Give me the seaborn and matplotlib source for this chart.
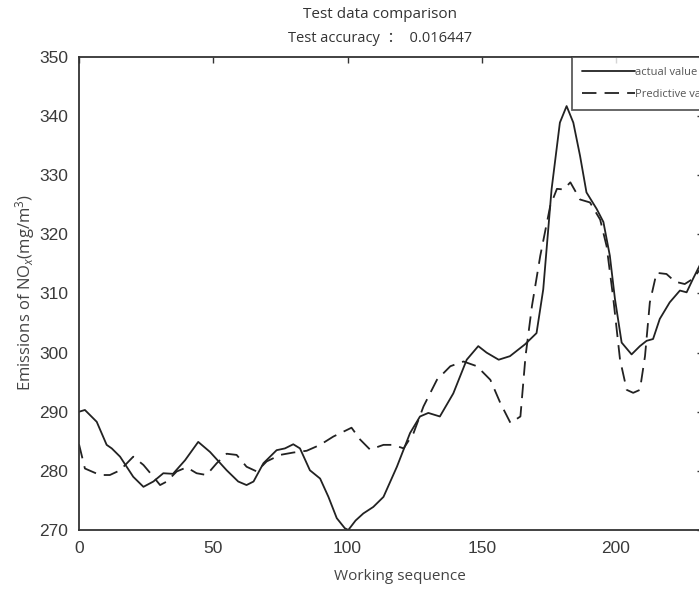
import matplotlib
matplotlib.use("Agg")
import matplotlib.pyplot as plt
import seaborn as sns
import pandas as pd

# Measured NOx emissions (solid line)
actual_x = [0, 2.2, 6.6, 10.3, 12.2, 15.3, 20.2, 24, 27.7, 31.4, 35, 39.5, 44.4,
            48.8, 55, 59.3, 62.4, 65, 68.7, 73.6, 76.7, 79.8, 82.3, 86, 89.8,
            92.9, 96, 99, 100.3, 103, 105.9, 109.6, 113.4, 118.4, 123.3, 127,
            130.1, 134.4, 139.4, 144.4, 148.7, 151.8, 156.3, 160.5, 166.1, 170.4,
            172.9, 176, 179.1, 181.6, 184.1, 186.6, 189, 192.8, 195.3, 197.7,
            199.6, 202.1, 205.8, 208.9, 211.4, 213.8, 216.3, 220, 223.8, 226.3,
            228.7, 232]
actual_y = [290.0, 290.3, 288.3, 284.4, 283.8, 282.4, 279.0, 277.3, 278.2, 279.6,
            279.5, 281.8, 284.9, 283.2, 280.1, 278.2, 277.6, 278.2, 281.3, 283.5,
            283.8, 284.5, 283.8, 280.1, 278.7, 275.6, 272.0, 270.3, 270.0, 271.6,
            272.8, 273.9, 275.6, 280.7, 286.4, 289.2, 289.8, 289.2, 293.1, 298.8,
            301.1, 300.0, 298.8, 299.4, 301.4, 303.3, 310.7, 327.6, 338.9, 341.7,
            338.9, 333.3, 327.1, 324.3, 322.1, 316.4, 309.1, 301.7, 299.7, 301.1,
            302.0, 302.3, 305.7, 308.5, 310.5, 310.2, 312.5, 315.5]

# Model output (dashed line)
pred_x = [0, 2.2, 7.8, 11.5, 15.3, 20.2, 24, 27.7, 30.2, 32.7, 36.4, 40.1, 43.8,
          47.5, 51.3, 55, 58.7, 62.4, 66.2, 69.9, 74.9, 79.8, 84.8, 89.8, 94.7,
          99.7, 101.5, 104.7, 108.4, 113.4, 117.1, 120.9, 124.6, 128.3, 133.3,
          138.3, 143.2, 148.2, 153.2, 156.9, 160.7, 164.4, 166.3, 168.7, 171.8,
          175.5, 178, 180.5, 183, 186.6, 190.3, 194.1, 196.5, 199, 201.5, 204,
          206.4, 208.9, 210.8, 212.6, 215.1, 218.8, 222, 225.6, 228.7, 232]
pred_y = [284.5, 280.4, 279.3, 279.3, 280.1, 282.4, 281.0, 279.0, 277.6, 278.2,
          279.9, 280.6, 279.6, 279.3, 281.3, 282.9, 282.7, 280.7, 279.9, 281.6,
          282.7, 283.1, 283.4, 284.4, 285.8, 286.9, 287.3, 285.3, 283.6, 284.4,
          284.4, 283.8, 286.4, 290.9, 295.4, 297.7, 298.5, 297.7, 295.4, 291.5,
          288.1, 289.2, 299.4, 307.9, 316.4, 324.8, 327.7, 327.6, 328.8, 325.9,
          325.4, 322.5, 318.0, 309.1, 298.8, 293.7, 293.2, 293.7, 299.4, 308.5,
          313.5, 313.3, 312.0, 311.6, 312.5, 314.5]

x_ticks = [0, 50, 100, 150, 200]
y_ticks = [270, 280, 290, 300, 310, 320, 330, 340, 350]

sns.set_style("white")
plt.rcParams["mathtext.fontset"] = "custom"
plt.rcParams["mathtext.rm"] = "Open Sans"
plt.rcParams["mathtext.it"] = "Open Sans:italic"

W, H = 699, 592
fig = plt.figure(figsize=(W / 100, H / 100), dpi=100)
ax = fig.add_axes([79 / W, 62 / H, 624 / W, 473 / H])

ink = "#222222"
actual_df = pd.DataFrame({"x": actual_x, "y": actual_y})
pred_df = pd.DataFrame({"x": pred_x, "y": pred_y})
sns.lineplot(data=actual_df, x="x", y="y", ax=ax, color=ink, lw=1.3,
             estimator=None, sort=False, label="actual value")
sns.lineplot(data=pred_df, x="x", y="y", ax=ax, color=ink, lw=1.3,
             estimator=None, sort=False, linestyle="--",
             label="Predictive value")
ax.lines[1].set_dashes((8, 4.5))

ax.set_xlim(0, 232.4)
ax.set_ylim(270, 350)
ax.set_xticks(x_ticks)
ax.set_yticks(y_ticks)
ax.set_xticklabels([str(v) for v in x_ticks], family="Liberation Sans",
                   fontsize=12.5, color="#3a3a3a")
ax.set_yticklabels([str(v) for v in y_ticks], family="Liberation Sans",
                   fontsize=12.5, color="#3a3a3a")
ax.tick_params(direction="in", length=4, width=1, color="#333333",
               top=True, right=True, pad=8)
for side in ["left", "bottom", "top", "right"]:
    ax.spines[side].set_visible(True)
    ax.spines[side].set_color("#333333")
    ax.spines[side].set_linewidth(1.3)

ax.set_xlabel("")
ax.set_ylabel("")
fig.text(400 / W, 1 - 577 / H, "Working sequence", family="Open Sans",
         fontsize=11, color="#444444", ha="center", va="center")
fig.text(25 / W, 1 - 292 / H, r"Emissions of NO$_{x}$(mg/m$^{3}$)",
         family="Open Sans", fontsize=12, color="#444444", rotation=90,
         ha="center", va="center")
fig.text(380 / W, 1 - 15 / H, "Test data comparison", family="Open Sans",
         fontsize=11, color="#333333", ha="center", va="center")
fig.text(380 / W, 1 - 38 / H, "Test accuracy  ：  0.016447",
         family=["Open Sans", "Noto Sans CJK SC"], fontsize=10.5,
         color="#333333", ha="center", va="center")

leg = ax.legend(loc="upper left", bbox_to_anchor=(572 / W, 1 - 57 / H),
                bbox_transform=fig.transFigure, borderaxespad=0,
                frameon=True, fancybox=False,
                prop={"family": "Open Sans", "size": 8},
                handlelength=4.8, handletextpad=0.0, labelspacing=1.0,
                borderpad=0.9)
leg.get_frame().set_edgecolor("#333333")
leg.get_frame().set_linewidth(1.3)
for t in leg.get_texts():
    t.set_color("#555555")

fig.savefig("out.png", dpi=100)
